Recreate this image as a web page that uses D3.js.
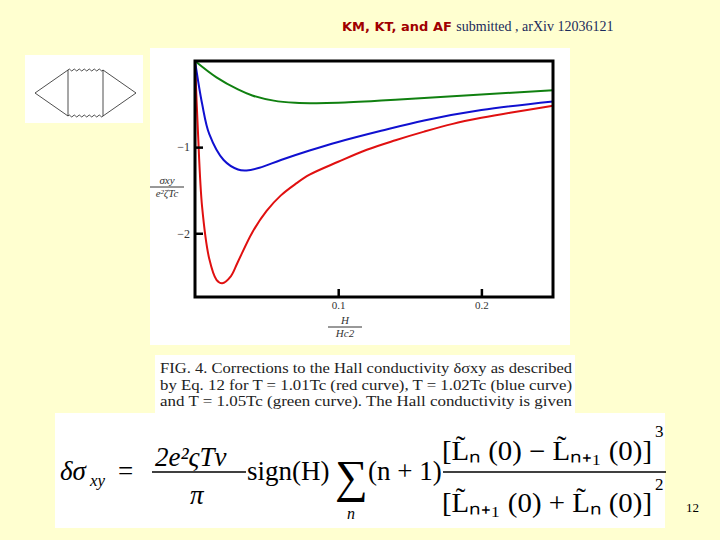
<!DOCTYPE html>
<html><head><meta charset="utf-8">
<script src="https://cdn.jsdelivr.net/npm/d3@7"></script>
<style>body{margin:0;background:#ffffd0}svg{display:block}</style>
</head><body><div id="slide"></div>
<script>
// Dados (H/Hc2, sigma_xy / e^2 zeta Tc)
const xRed = [0, 0.002, 0.005, 0.01, 0.015, 0.019, 0.025, 0.03, 0.04, 0.05, 0.06, 0.07, 0.08, 0.1, 0.12, 0.14, 0.16, 0.18, 0.2, 0.22, 0.25];
const yRed = [0, -0.8, -1.7, -2.3, -2.54, -2.58, -2.5, -2.33, -1.99, -1.74, -1.56, -1.43, -1.32, -1.17, -1.03, -0.92, -0.82, -0.73, -0.66, -0.6, -0.52];
const xBlue = [0, 0.005, 0.01, 0.02, 0.03, 0.036, 0.045, 0.06, 0.08, 0.1, 0.13, 0.16, 0.2, 0.25];
const yBlue = [0, -0.5, -0.85, -1.15, -1.26, -1.27, -1.24, -1.15, -1.04, -0.94, -0.81, -0.69, -0.57, -0.47];
const xGreen = [0, 0.015, 0.03, 0.04, 0.055, 0.07, 0.085, 0.1, 0.13, 0.16, 0.2, 0.25];
const yGreen = [0, -0.19, -0.33, -0.4, -0.46, -0.485, -0.49, -0.485, -0.46, -0.43, -0.39, -0.34];
const xTicks = [0.1, 0.2];
const yTicks = [-1, -2];

const svg = d3.select('#slide').append('svg').attr('width', 720).attr('height', 540);
svg.append('rect').attr('width', 720).attr('height', 540).attr('fill', '#ffffd0');

// Cabeçalho
const cab = svg.append('text').attr('x', 342).attr('y', 31).attr('font-size', 14);
cab.append('tspan').attr('fill', '#a00000').attr('font-family', 'Comic Sans MS, DejaVu Sans')
  .attr('font-weight', 'bold').attr('font-size', 13).text('KM, KT, and AF ');
cab.append('tspan').attr('fill', '#1a2a5a').attr('font-family', 'Liberation Serif').text('submitted , arXiv 12036121');

// Diagrama de Feynman (esquerda)
svg.append('rect').attr('x', 25).attr('y', 55).attr('width', 118).attr('height', 68).attr('fill', '#fff');
const dg = svg.append('g').attr('stroke', '#222').attr('fill', 'none').attr('stroke-width', 0.8);
dg.append('path').attr('d', 'M35,93 L68,70 M35,93 L68,116 M103,70 L136,93 M103,116 L136,93 M68,70 L68,116 M103,70 L103,116');
const wavy = (y) => { let p = `M68,${y}`; for (let i = 0; i < 14; i++) p += ` q1.25,${i % 2 ? 2 : -2} 2.5,0`; return p; };
dg.append('path').attr('d', wavy(70));
dg.append('path').attr('d', wavy(116));

// Painel branco do gráfico
svg.append('rect').attr('x', 150).attr('y', 48).attr('width', 420).attr('height', 297).attr('fill', '#fff');

const x = d3.scaleLinear().domain([0, 0.25]).range([195, 553]);
const y = d3.scaleLinear().domain([-2.74, 0]).range([297, 61]);

const linha = d3.line().curve(d3.curveCatmullRom.alpha(0.5)).x((d) => x(d[0])).y((d) => y(d[1]));
const series = [[xRed, yRed, '#e01010'], [xBlue, yBlue, '#1010d0'], [xGreen, yGreen, '#108010']];
series.forEach(([xs, ys, cor]) => {
  svg.append('path').datum(xs.map((v, i) => [v, ys[i]])).attr('d', linha)
    .attr('fill', 'none').attr('stroke', cor).attr('stroke-width', 2);
});

svg.append('rect').attr('x', 195).attr('y', 61).attr('width', 358).attr('height', 236)
  .attr('fill', 'none').attr('stroke', '#000').attr('stroke-width', 3);

const eixoX = svg.append('g').attr('transform', 'translate(0,297)')
  .call(d3.axisTop(x).tickValues(xTicks).tickSize(8).tickFormat(d3.format('.1f')));
eixoX.select('.domain').remove();
eixoX.selectAll('line').attr('stroke-width', 2.5);
eixoX.selectAll('text').attr('y', 12).attr('dy', 0).attr('font-family', 'Liberation Serif').attr('font-size', 11).attr('fill', '#333');

const eixoY = svg.append('g').attr('transform', 'translate(195,0)')
  .call(d3.axisRight(y).tickValues(yTicks).tickSize(8).tickFormat((d) => '\u2212' + Math.abs(d)));
eixoY.select('.domain').remove();
eixoY.selectAll('line').attr('stroke-width', 2.5);
eixoY.selectAll('text').attr('x', -5).attr('text-anchor', 'end').attr('font-family', 'Liberation Serif').attr('font-size', 12).attr('fill', '#333');

// Rótulos dos eixos (frações)
const frac = (cx, cy, num, den) => {
  const g = svg.append('g').attr('font-family', 'Liberation Serif').attr('font-style', 'italic').attr('font-size', 11).attr('fill', '#333');
  g.append('text').attr('x', cx).attr('y', cy - 3).attr('text-anchor', 'middle').text(num);
  g.append('line').attr('x1', cx - 17).attr('x2', cx + 17).attr('y1', cy).attr('y2', cy).attr('stroke', '#333');
  g.append('text').attr('x', cx).attr('y', cy + 10).attr('text-anchor', 'middle').text(den);
};
frac(167, 187, 'σxy', 'e²ζTc');
frac(345, 327, 'H', 'Hc2');

// Legenda da figura
svg.append('rect').attr('x', 155).attr('y', 355).attr('width', 420).attr('height', 60).attr('fill', '#fff');
const leg = ['FIG. 4.  Corrections to the Hall conductivity δσxy as described',
  'by Eq. 12 for T = 1.01Tc (red curve), T = 1.02Tc (blue curve)',
  'and T = 1.05Tc (green curve).  The Hall conductivity is given'];
svg.selectAll('.leg').data(leg).enter().append('text').attr('class', 'leg')
  .attr('x', 160).attr('y', (d, i) => 373 + i * 16.5).attr('font-family', 'Liberation Serif')
  .attr('font-size', 15).attr('textLength', 412).attr('lengthAdjust', 'spacingAndGlyphs')
  .attr('fill', '#222').text((d) => d);

// Equação
svg.append('rect').attr('x', 55).attr('y', 413).attr('width', 610).attr('height', 115).attr('fill', '#fff');
const eq = svg.append('g').attr('font-family', 'Liberation Serif').attr('fill', '#000').attr('font-size', 27);
eq.append('text').attr('x', 60).attr('y', 480).attr('font-style', 'italic').text('δσ');
eq.append('text').attr('x', 90).attr('y', 486).attr('font-size', 17).attr('font-style', 'italic').text('xy');
eq.append('text').attr('x', 118).attr('y', 480).text('=');
eq.append('text').attr('x', 155).attr('y', 466).attr('font-style', 'italic').text('2e²ςTν');
eq.append('line').attr('x1', 152).attr('x2', 246).attr('y1', 472).attr('y2', 472).attr('stroke', '#000').attr('stroke-width', 1.5);
eq.append('text').attr('x', 190).attr('y', 504).attr('font-style', 'italic').text('π');
eq.append('text').attr('x', 247).attr('y', 480).text('sign(H)');
eq.append('text').attr('x', 335).attr('y', 492).attr('font-size', 46).text('∑');
eq.append('text').attr('x', 347).attr('y', 519).attr('font-size', 16).attr('font-style', 'italic').text('n');
eq.append('text').attr('x', 368).attr('y', 480).text('(n + 1)');
eq.append('text').attr('x', 442).attr('y', 460).attr('textLength', 210).attr('lengthAdjust', 'spacingAndGlyphs').text('[L̃ₙ (0) − L̃ₙ₊₁ (0)]');
eq.append('text').attr('x', 655).attr('y', 437).attr('font-size', 17).text('3');
eq.append('line').attr('x1', 443).attr('x2', 666).attr('y1', 472).attr('y2', 472).attr('stroke', '#000').attr('stroke-width', 1.5);
eq.append('text').attr('x', 442).attr('y', 512).attr('textLength', 210).attr('lengthAdjust', 'spacingAndGlyphs').text('[L̃ₙ₊₁ (0) + L̃ₙ (0)]');
eq.append('text').attr('x', 655).attr('y', 490).attr('font-size', 17).text('2');

svg.append('text').attr('x', 686).attr('y', 512).attr('font-family', 'Liberation Serif').attr('font-size', 13).text('12');
</script></body></html>
